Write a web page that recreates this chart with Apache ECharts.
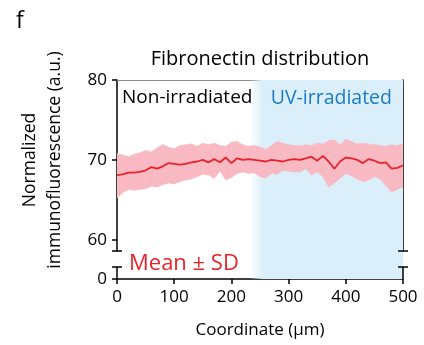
<!DOCTYPE html>
<html>
<head>
<meta charset="utf-8">
<script src="https://cdn.jsdelivr.net/npm/echarts@6/dist/echarts.min.js"></script>
<style>
  html, body { margin: 0; padding: 0; background: #fff; }
  #chart { width: 424px; height: 345px; }
</style>
</head>
<body>
<div id="chart"></div>
<script>
// coordinate along the sample (µm)
var coord = [0, 10, 20, 30, 40, 50, 60, 70, 80, 90,
  100, 110, 120, 130, 140, 150, 160, 170, 180, 190,
  200, 210, 220, 230, 240, 250, 260, 270, 280, 290,
  300, 310, 320, 330, 340, 350, 360, 370, 380, 390,
  400, 410, 420, 430, 440, 450, 460, 470, 480, 490, 500]
// mean, mean+SD, mean-SD (a.u.)
var meanVals = [68.1, 68.2, 68.4, 68.4, 68.5, 68.7, 69.1, 68.9, 69.2, 69.6,
  69.5, 69.4, 69.5, 69.7, 69.8, 70.0, 69.7, 70.1, 69.7, 70.3,
  69.6, 70.2, 70.0, 70.1, 70.0, 69.9, 69.8, 70.0, 69.9, 69.8,
  70.0, 70.1, 70.0, 70.2, 70.4, 69.9, 70.5, 69.8, 68.9, 69.8,
  70.3, 70.2, 70.0, 69.6, 70.1, 69.9, 69.6, 69.7, 68.9, 69.0, 69.3]
var upperVals = [70.8, 70.6, 70.4, 70.7, 70.9, 71.2, 71.0, 71.5, 71.9, 71.6,
  71.4, 71.8, 71.9, 72.0, 71.7, 72.1, 71.9, 72.1, 71.8, 71.7,
  72.2, 72.3, 71.9, 71.7, 71.8, 71.6, 71.3, 71.8, 72.3, 72.1,
  71.9, 71.8, 71.75, 71.9, 71.8, 72.1, 72.0, 72.4, 72.5, 71.9,
  72.6, 72.3, 72.0, 72.1, 72.0, 71.9, 71.8, 71.7, 71.9, 71.8, 72.0]
var lowerVals = [65.2, 65.9, 66.3, 66.2, 66.3, 66.4, 66.7, 66.6, 66.9, 67.1,
  67.0, 67.3, 67.5, 67.6, 67.9, 68.2, 68.1, 67.7, 68.6, 67.5,
  67.8, 68.3, 68.5, 68.3, 68.4, 67.9, 67.7, 68.3, 68.2, 68.7,
  68.6, 68.5, 68.5, 68.9, 68.1, 68.5, 67.9, 66.6, 67.1, 67.7,
  68.3, 68.0, 67.6, 67.3, 67.5, 67.9, 67.6, 66.8, 66.0, 66.3, 66.6]
var yTicksUpper = [60, 70, 80]
var yTicksLower = [0]
var uvRange = [232, 500]

var font = '"Open Sans", sans-serif'
// pixel layout of the two panels of the broken axis
var L = 117, R = 403, TOP = 80, BRK1 = 251, BRK2 = 267, BOT = 279

var meanData = [], bandData = []
for (var i = 0; i < coord.length; i++) {
  meanData.push([coord[i], meanVals[i]])
  bandData.push([coord[i], lowerVals[i], upperVals[i]])
}

var uvColor = new echarts.graphic.LinearGradient(0, 0, 1, 0, [
  {offset: 0, color: 'rgba(219,239,250,0)'},
  {offset: 0.085, color: '#dbeffa'},
  {offset: 1, color: '#dbeffa'},
])
var uvArea = {
  silent: true,
  itemStyle: {color: uvColor},
  data: [[{xAxis: uvRange[0]}, {xAxis: uvRange[1]}]],
}

// one quad of the SD band between point i and i+1
function renderBand (params, api){
  var i = params.dataIndex
  if (i >= bandData.length - 1) return
  var a = bandData[i], b = bandData[i + 1]
  var pts = [
    api.coord([a[0], a[2]]), api.coord([b[0], b[2]]),
    api.coord([b[0], b[1]]), api.coord([a[0], a[1]]),
  ]
  return {
    type: 'polygon',
    shape: {points: pts},
    style: {fill: '#f9b9c3', stroke: '#f9b9c3', lineWidth: 0.6},
  }
}

function seg (x1, y1, x2, y2, color, w){
  return {type: 'line', silent: true, z: 10,
    shape: {x1: x1, y1: y1, x2: x2, y2: y2},
    style: {stroke: color || '#000', lineWidth: w || 1.5}}
}
function txt (x, y, s, color, size, align, rot){
  return {type: 'text', silent: true, z: 10, x: x, y: y, rotation: rot || 0,
    style: {text: s, fill: color, font: size + 'px ' + font,
      textAlign: align || 'left', textVerticalAlign: 'middle'}}
}

var chart = echarts.init(document.getElementById('chart'))
var option = {
  animation: false,
  title: {
    text: 'f', left: 11, top: 5,
    textStyle: {fontFamily: font, fontSize: 23, fontWeight: 'normal', color: '#000'},
  },
  grid: [
    {left: L, width: R - L, top: TOP, height: BRK1 - TOP},
    {left: L, width: R - L, top: BRK1, height: BOT - BRK1},
  ],
  xAxis: [{
    gridIndex: 0, type: 'value', min: 0, max: 500, position: 'top',
    name: 'Fibronectin distribution', nameLocation: 'middle', nameGap: 11,
    nameTextStyle: {fontFamily: font, fontSize: 20, color: '#000'},
    axisLine: {lineStyle: {color: '#8a8a8a', width: 1}},
    axisTick: {show: false}, axisLabel: {show: false}, splitLine: {show: false},
  }, {
    gridIndex: 1, type: 'value', min: 0, max: 500, interval: 100,
    name: 'Coordinate (µm)', nameLocation: 'middle', nameGap: 43,
    nameTextStyle: {fontFamily: font, fontSize: 17, color: '#000'},
    axisLine: {lineStyle: {color: '#000', width: 1.5}},
    axisTick: {length: 5, lineStyle: {color: '#000', width: 1.5}},
    axisLabel: {margin: 10, fontFamily: font, fontSize: 17, color: '#000'},
    splitLine: {show: false},
  }],
  yAxis: [{
    gridIndex: 0, type: 'value', min: 58.6, max: 80,
    axisLine: {show: true, lineStyle: {color: '#000', width: 1.5}},
    axisTick: {show: true, length: 5, customValues: yTicksUpper, lineStyle: {color: '#000', width: 1.5}},
    axisLabel: {customValues: yTicksUpper, margin: 10, fontFamily: font, fontSize: 17, color: '#000'},
    splitLine: {show: false},
  }, {
    gridIndex: 0, type: 'value', min: 58.6, max: 80, position: 'right',
    axisLine: {show: true, lineStyle: {color: '#000', width: 1.5}},
    axisTick: {show: false}, axisLabel: {show: false}, splitLine: {show: false},
  }, {
    gridIndex: 1, type: 'value', min: 0, max: 1,
    axisLine: {show: false},
    axisTick: {show: true, length: 5, customValues: yTicksLower, lineStyle: {color: '#000', width: 1.5}},
    axisLabel: {customValues: yTicksLower, margin: 10, fontFamily: font, fontSize: 17, color: '#000'},
    splitLine: {show: false},
  }],
  series: [{
    name: 'sd', type: 'custom', xAxisIndex: 0, yAxisIndex: 0,
    data: bandData, renderItem: renderBand, clip: true, silent: true,
    encode: {x: 0, y: [1, 2]},
    markArea: uvArea,
  }, {
    name: 'mean', type: 'line', xAxisIndex: 0, yAxisIndex: 0,
    data: meanData, symbol: 'none', z: 5,
    lineStyle: {color: '#e8232b', width: 1.8},
  }, {
    name: 'uv2', type: 'line', xAxisIndex: 1, yAxisIndex: 2,
    data: [], symbol: 'none', markArea: uvArea,
  }],
  graphic: [
    // broken-axis pieces
    seg(L, BRK2, L, BOT), seg(R, BRK2, R, BOT),
    seg(L - 5, BRK1, L + 5, BRK1), seg(L - 5, BRK2, L + 5, BRK2),
    seg(R - 5, BRK1, R + 5, BRK1), seg(R - 5, BRK2, R + 5, BRK2),
    txt(122, 98, 'Non-irradiated', '#000', 19),
    txt(392, 98, 'UV-irradiated', '#1d7bc3', 19.5, 'right'),
    txt(129, 264, 'Mean ± SD', '#e8232b', 22),
    txt(30, 160, 'Normalized', '#000', 17.5, 'center', Math.PI / 2),
    txt(55, 160, 'immunofluorescence (a.u.)', '#000', 17.5, 'center', Math.PI / 2),
  ],
}
chart.setOption(option)
</script>
</body>
</html>
